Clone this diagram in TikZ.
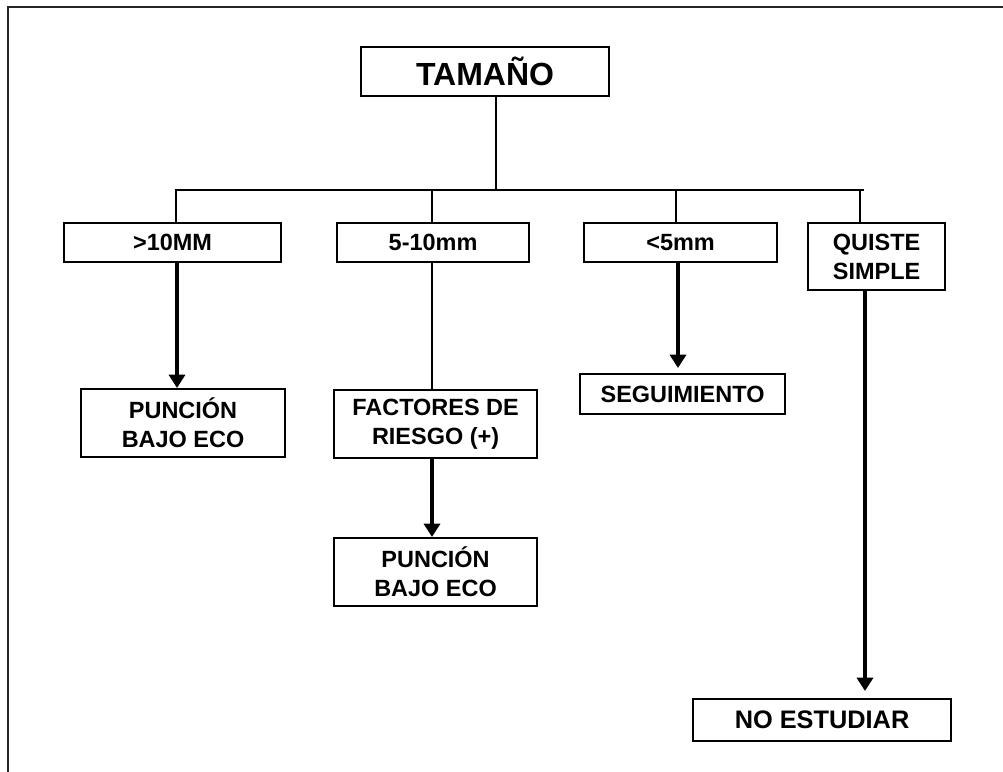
\documentclass[tikz,border=0pt]{standalone}
\usepackage{fontspec}
\setmainfont{Liberation Sans}
\usetikzlibrary{arrows.meta}
\begin{document}
\begin{tikzpicture}[x=0.75pt,y=-0.75pt,
  box/.style={draw=black,line width=1.6pt,fill=white,inner sep=0pt,anchor=north west,
    align=center,font=\bfseries\fontsize{17.6pt}{21.8pt}\selectfont},
  thin/.style={draw=black,line width=1.5pt},
  arr/.style={draw=black,line width=3pt,-{Triangle[width=12pt,length=10pt]}},
  frame/.style={draw=black!85,line width=1.8pt}]
\useasboundingbox (0,0) rectangle (1003,771);
\draw[frame] (8,780) -- (8,7) -- (1010,7);
% boxes
\node[box,minimum width=248*0.75pt,minimum height=49*0.75pt,font=\bfseries\fontsize{24pt}{28pt}\selectfont] (t) at (360,46) {TAMAÑO};
\node[box,minimum width=217*0.75pt,minimum height=39*0.75pt] (a1) at (63,222) {>10MM};
\node[box,minimum width=192*0.75pt,minimum height=39*0.75pt] (a2) at (336,222) {5-10mm};
\node[box,minimum width=193*0.75pt,minimum height=39*0.75pt] (a3) at (583,222) {<5mm};
\node[box,minimum width=137*0.75pt,minimum height=67*0.75pt] (a4) at (807,222) {QUISTE\\SIMPLE};
\node[box,minimum width=204*0.75pt,minimum height=68*0.75pt] (b1) at (80,388) {PUNCIÓN\\BAJO ECO};
\node[box,minimum width=203*0.75pt,minimum height=68*0.75pt] (b2) at (333,389) {FACTORES DE\\RIESGO (+)};
\node[box,minimum width=205*0.75pt,minimum height=40*0.75pt] (b3) at (579,373) {SEGUIMIENTO};
\node[box,minimum width=203*0.75pt,minimum height=68*0.75pt] (c2) at (333,537) {PUNCIÓN\\BAJO ECO};
\node[box,minimum width=258*0.75pt,minimum height=42*0.75pt,font=\bfseries\fontsize{19pt}{23pt}\selectfont] (d4) at (692,698) {NO ESTUDIAR};
% tree connectors
\coordinate (bus) at (496,190);
\draw[thin] (t.south -| bus) -- (bus);
\draw[thin] (a1.north -| 176,0) -- (176,190) -- (864,190);
\draw[thin] (a2.north -| 432,0) -- (432,190);
\draw[thin] (a3.north -| 676,0) -- (676,190);
\draw[thin] (a4.north -| 860,0) -- (860,190);
\draw[thin] (a2.south -| 432,0) -- (b2.north -| 432,0);
% arrows
\draw[arr] (a1.south -| 177,0) -- (b1.north -| 177,0);
\draw[arr,shorten >=5*0.75pt] (a3.south -| 678,0) -- (b3.north -| 678,0);
\draw[arr] (b2.south -| 432,0) -- (c2.north -| 432,0);
\draw[arr,shorten >=7*0.75pt] (a4.south -| 865,0) -- (d4.north -| 865,0);
\end{tikzpicture}
\end{document}
